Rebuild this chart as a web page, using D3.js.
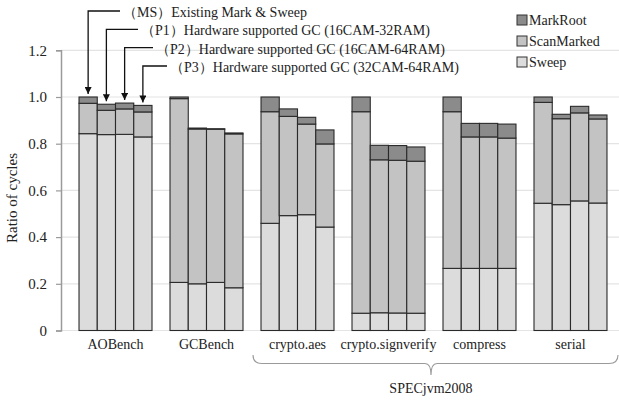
<!DOCTYPE html>
<html>
<head>
<meta charset="utf-8">
<script src="https://cdn.jsdelivr.net/npm/d3@7"></script>
<style>
  body { margin: 0; background: #fff; }
</style>
</head>
<body>
<div id="chart"></div>
<script>
// ---------------------------------------------------------------- DATA ---------------------------------------------------------- //
const benchmarks = ["AOBench", "GCBench", "crypto.aes", "crypto.signverify", "compress", "serial"];
const configs = ["MS", "P1", "P2", "P3"];
const configLabels = [
    "（MS）Existing Mark & Sweep",
    "（P1）Hardware supported GC (16CAM-32RAM)",
    "（P2）Hardware supported GC (16CAM-64RAM)",
    "（P3）Hardware supported GC (32CAM-64RAM)"
];
const phases = ["Sweep", "ScanMarked", "MarkRoot"];
const legendOrder = ["MarkRoot", "ScanMarked", "Sweep"];

// one row per benchmark, one value per config
const sweep = [
    [0.843, 0.839, 0.840, 0.829],
    [0.206, 0.200, 0.206, 0.183],
    [0.459, 0.492, 0.496, 0.443],
    [0.074, 0.076, 0.075, 0.074],
    [0.266, 0.266, 0.266, 0.266],
    [0.545, 0.539, 0.555, 0.546]
];
const scanMarked = [
    [0.130, 0.104, 0.109, 0.107],
    [0.787, 0.663, 0.656, 0.659],
    [0.478, 0.425, 0.388, 0.356],
    [0.863, 0.655, 0.654, 0.651],
    [0.671, 0.563, 0.563, 0.558],
    [0.432, 0.368, 0.377, 0.360]
];
const markRoot = [
    [0.027, 0.026, 0.025, 0.028],
    [0.007, 0.004, 0.002, 0.004],
    [0.063, 0.032, 0.029, 0.060],
    [0.063, 0.062, 0.063, 0.061],
    [0.063, 0.058, 0.058, 0.060],
    [0.023, 0.019, 0.028, 0.017]
];
const yTicks = [0, 0.2, 0.4, 0.6, 0.8, 1.0, 1.2];
const suiteName = "SPECjvm2008";
const suiteMembers = ["crypto.aes", "serial"];

const colors = {MarkRoot: "#8b8b8b", ScanMarked: "#c3c3c3", Sweep: "#dcdcdd"};
const FONT = '"Liberation Serif"';

// ---------------------------------------------------------------- SETUP --------------------------------------------------------- //
const W = 619, H = 401;
const svg = d3.select("#chart").append("svg")
    .attr("width", W).attr("height", H);

const x = d3.scaleBand().domain(benchmarks).range([61, 625]).paddingInner(0.198).paddingOuter(0.198);
const xi = d3.scaleBand().domain(configs).range([0, x.bandwidth()]);
const y = d3.scaleLinear().domain([0, 1.2]).range([330.5, 50.3]);

// gridlines
svg.append("g").selectAll("line").data(yTicks).join("line")
    .attr("x1", 61).attr("x2", W)
    .attr("y1", d => y(d)).attr("y2", d => y(d))
    .attr("stroke", "#e4e4e4").attr("stroke-width", 1.2);

// y axis
const yAxis = svg.append("g")
    .attr("transform", "translate(61,0)")
    .call(d3.axisLeft(y).tickValues(yTicks).tickSize(5).tickPadding(9)
        .tickFormat(d => d === 0 ? "0" : d3.format(".1f")(d)));
yAxis.select(".domain").attr("stroke", "#9a9a9a").attr("stroke-width", 1.5);
yAxis.selectAll(".tick line").attr("stroke", "#9a9a9a").attr("stroke-width", 1.2);
yAxis.selectAll(".tick text")
    .style("font-family", FONT).style("font-size", "15px").attr("fill", "#222");

svg.append("text")
    .attr("transform", "translate(17,198) rotate(-90)")
    .attr("text-anchor", "middle")
    .style("font-family", FONT).style("font-size", "15px").attr("fill", "#222")
    .text("Ratio of cycles");

// ---------------------------------------------------------------- BARS ---------------------------------------------------------- //
const stackRows = [];
benchmarks.forEach((b, bi) => {
    configs.forEach((c, ci) => {
        stackRows.push({bench: b, config: c, Sweep: sweep[bi][ci], ScanMarked: scanMarked[bi][ci], MarkRoot: markRoot[bi][ci]});
    });
});
const stacked = d3.stack().keys(phases)(stackRows);

stacked.forEach(layer => {
    svg.append("g").selectAll("rect").data(layer).join("rect")
        .attr("x", d => x(d.data.bench) + xi(d.data.config))
        .attr("width", xi.bandwidth())
        .attr("y", d => y(d[1]))
        .attr("height", d => y(d[0]) - y(d[1]))
        .attr("fill", colors[layer.key])
        .attr("stroke", "#2a2a2a")
        .attr("stroke-width", 1.1);
});

// category labels
svg.append("g").selectAll("text").data(benchmarks).join("text")
    .attr("x", d => x(d) + x.bandwidth() / 2)
    .attr("y", 349)
    .attr("text-anchor", "middle")
    .style("font-family", FONT).style("font-size", "14px").attr("fill", "#222")
    .text(d => d);

// ---------------------------------------------------------------- BRACE --------------------------------------------------------- //
const bx0 = x(suiteMembers[0]) - 8, bx1 = 618;
const bmid = (x(suiteMembers[0]) + x(suiteMembers[1]) + x.bandwidth()) / 2 - 3;
const by = 363.5;
const brace = d3.path();
brace.moveTo(bx0, 355);
brace.quadraticCurveTo(bx0, by, bx0 + 9, by);
brace.lineTo(bmid - 6, by);
brace.quadraticCurveTo(bmid, by, bmid, 375);
brace.quadraticCurveTo(bmid, by, bmid + 6, by);
brace.lineTo(bx1 - 9, by);
brace.quadraticCurveTo(bx1, by, bx1, 355);
svg.append("path").attr("d", brace.toString())
    .attr("fill", "none").attr("stroke", "#9a9a9a").attr("stroke-width", 1.1);
svg.append("text")
    .attr("x", bmid).attr("y", 393)
    .attr("text-anchor", "middle")
    .style("font-family", FONT).style("font-size", "14px").attr("fill", "#222")
    .text(suiteName);

// ---------------------------------------------------------------- ANNOTATIONS --------------------------------------------------- //
const defs = svg.append("defs");
defs.append("marker").attr("id", "arrow")
    .attr("viewBox", "0 0 10 10").attr("refX", 10).attr("refY", 5)
    .attr("markerWidth", 7).attr("markerHeight", 7).attr("markerUnits", "userSpaceOnUse")
    .attr("orient", "auto")
    .append("path").attr("d", "M0,0 L10,5 L0,10 Z").attr("fill", "#111");

const annRowY = [11, 29.3, 47.7, 66];
const annLineEnd = [120, 138, 153, 167];
configs.forEach((c, ci) => {
    const bi = 0;
    const cx = x(benchmarks[bi]) + xi(c) + xi.bandwidth() / 2;
    const top = sweep[bi][ci] + scanMarked[bi][ci] + markRoot[bi][ci];
    svg.append("path")
        .attr("d", `M${annLineEnd[ci]},${annRowY[ci]} L${cx},${annRowY[ci]} L${cx},${y(top) - 3}`)
        .attr("fill", "none").attr("stroke", "#111").attr("stroke-width", 1.3)
        .attr("marker-end", "url(#arrow)");
    svg.append("text")
        .attr("x", annLineEnd[ci] + 3)
        .attr("y", annRowY[ci] + 6)
        .style("font-family", FONT).style("font-size", "14px").attr("fill", "#222")
        .text(configLabels[ci]);
});

// ---------------------------------------------------------------- LEGEND -------------------------------------------------------- //
const legend = svg.append("g").selectAll("g").data(legendOrder).join("g")
    .attr("transform", (d, i) => `translate(517,${20 + i * 21})`);
legend.append("rect")
    .attr("x", 0).attr("y", -5).attr("width", 10).attr("height", 10)
    .attr("fill", d => colors[d]).attr("stroke", "#333").attr("stroke-width", 1);
legend.append("text")
    .attr("x", 12).attr("y", 5)
    .style("font-family", FONT).style("font-size", "14px").attr("fill", "#222")
    .text(d => d);
</script>
</body>
</html>
